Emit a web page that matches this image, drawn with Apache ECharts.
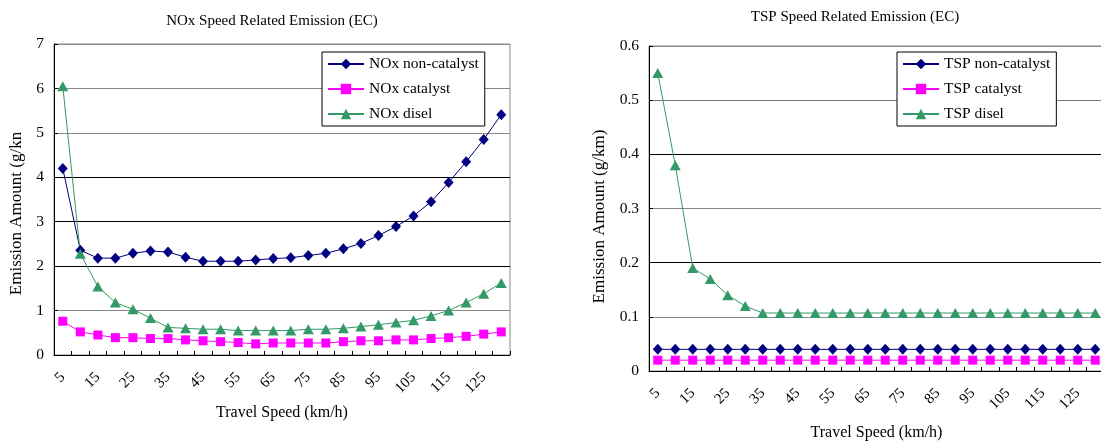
<!DOCTYPE html>
<html>
<head>
<meta charset="utf-8">
<script src="https://cdn.jsdelivr.net/npm/echarts@6/dist/echarts.min.js"></script>
<style>
  html, body { margin: 0; padding: 0; background: #fff; }
  #chart { width: 1101px; height: 442px; }
</style>
</head>
<body>
<div id="chart"></div>
<script>
// ---- data ----
const speeds = ['5','10','15','20','25','30','35','40','45','50','55','60','65','70','75','80','85','90','95','100','105','110','115','120','125','130'];

const noxNonCatalyst = [4.20,2.36,2.18,2.18,2.29,2.34,2.32,2.20,2.11,2.11,2.11,2.14,2.17,2.19,2.24,2.29,2.39,2.51,2.69,2.89,3.13,3.45,3.88,4.35,4.85,5.41];
const noxCatalyst    = [0.76,0.52,0.45,0.39,0.39,0.37,0.37,0.34,0.32,0.30,0.28,0.25,0.27,0.27,0.27,0.27,0.30,0.32,0.32,0.34,0.34,0.37,0.39,0.42,0.47,0.52];
const noxDiesel      = [6.05,2.28,1.54,1.18,1.03,0.83,0.62,0.60,0.58,0.58,0.55,0.55,0.55,0.55,0.58,0.58,0.60,0.64,0.68,0.73,0.78,0.88,1.00,1.18,1.38,1.62];

const tspNonCatalyst = [0.04,0.04,0.04,0.04,0.04,0.04,0.04,0.04,0.04,0.04,0.04,0.04,0.04,0.04,0.04,0.04,0.04,0.04,0.04,0.04,0.04,0.04,0.04,0.04,0.04,0.04];
const tspCatalyst    = [0.02,0.02,0.02,0.02,0.02,0.02,0.02,0.02,0.02,0.02,0.02,0.02,0.02,0.02,0.02,0.02,0.02,0.02,0.02,0.02,0.02,0.02,0.02,0.02,0.02,0.02];
const tspDiesel      = [0.55,0.38,0.19,0.17,0.14,0.12,0.107,0.107,0.107,0.107,0.107,0.107,0.107,0.107,0.107,0.107,0.107,0.107,0.107,0.107,0.107,0.107,0.107,0.107,0.107,0.107];

const titles = ['NOx Speed Related Emission (EC)', 'TSP Speed Related Emission (EC)'];
const xName = 'Travel Speed (km/h)';
const yNames = ['Emission Amount (g/kn', 'Emission Amount (g/km)'];
const noxNames = ['NOx non-catalyst', 'NOx catalyst', 'NOx disel'];
const tspNames = ['TSP non-catalyst', 'TSP catalyst', 'TSP disel'];

// ---- styling ----
const FONT = 'Liberation Serif';
const NAVY = '#000080', MAGENTA = '#FF00FF', GREEN = '#339966';

function xAxisFor(gridIndex, gap) {
  return {
    type: 'category', gridIndex: gridIndex, data: speeds, boundaryGap: true,
    name: xName, nameLocation: 'middle', nameGap: gap,
    nameTextStyle: { fontFamily: FONT, fontSize: 16, color: '#000' },
    axisLine: { lineStyle: { color: '#000', width: 1 } },
    axisTick: { show: true, inside: true, length: 4, interval: 0, lineStyle: { color: '#000' } },
    axisLabel: { interval: 1, rotate: 45, margin: 20, fontFamily: FONT, fontSize: 15, color: '#000' },
    splitLine: { show: false }
  };
}
function yAxisFor(gridIndex, max, interval, name, gap, pad, colors) {
  return {
    type: 'value', gridIndex: gridIndex, min: 0, max: max, interval: interval,
    name: name, nameLocation: 'middle', nameGap: gap,
    nameTextStyle: { fontFamily: FONT, fontSize: 17, color: '#000', padding: pad },
    axisLine: { show: true, lineStyle: { color: '#000', width: 1 } },
    axisTick: { show: true, inside: true, length: 4, lineStyle: { color: '#000' } },
    axisLabel: { margin: 10, fontFamily: FONT, fontSize: 15.5, color: '#000' },
    splitLine: { show: true, lineStyle: { color: colors, width: 1 } }
  };
}
function lineSeries(name, data, color, symbol, size, idx) {
  return {
    name: name, type: 'line', data: data, xAxisIndex: idx, yAxisIndex: idx,
    symbol: symbol, symbolSize: size, showAllSymbol: true,
    lineStyle: { color: color, width: 1 },
    itemStyle: { color: color },
    emphasis: { disabled: true },
    animation: false
  };
}
function legendFor(names, left) {
  return {
    data: names, orient: 'vertical', left: left, top: 52,
    itemWidth: 36, itemHeight: 13, itemGap: 9,
    padding: [4, 6, 4, 5],
    borderColor: '#000', borderWidth: 1, backgroundColor: '#fff',
    textStyle: { fontFamily: FONT, fontSize: 15.5, color: '#000', lineHeight: 16 }
  };
}

const option = {
  backgroundColor: '#fff',
  animation: false,
  title: [
    { text: titles[0], left: 272, top: 14, textAlign: 'center', padding: 0,
      textStyle: { fontFamily: FONT, fontSize: 15, fontWeight: 'normal', color: '#000' } },
    { text: titles[1], left: 855, top: 10, textAlign: 'center', padding: 0,
      textStyle: { fontFamily: FONT, fontSize: 15, fontWeight: 'normal', color: '#000' } }
  ],
  legend: [legendFor(noxNames, 322), legendFor(tspNames, 897)],
  grid: [
    { left: 54, top: 44, width: 456, height: 311, show: true, borderColor: '#888', borderWidth: 1,
      backgroundColor: 'transparent', containLabel: false, outerBoundsMode: 'none' },
    { left: 649, top: 46, width: 455, height: 325, show: true, borderColor: '#888', borderWidth: 1,
      backgroundColor: 'transparent', containLabel: false, outerBoundsMode: 'none' }
  ],
  xAxis: [xAxisFor(0, 50), xAxisFor(1, 54)],
  yAxis: [
    yAxisFor(0, 7, 1, yNames[0], 29, [0, 28, 0, 0], ['#000', '#888', '#000', '#000', '#000', '#888', '#888', '#888']),
    yAxisFor(1, 0.6, 0.1, yNames[1], 41, [0, 16, 0, 0], ['#000', '#888', '#000', '#888', '#000', '#777', '#888'])
  ],
  series: [
    lineSeries(noxNames[0], noxNonCatalyst, NAVY, 'diamond', [10, 11], 0),
    lineSeries(noxNames[1], noxCatalyst, MAGENTA, 'rect', 9, 0),
    lineSeries(noxNames[2], noxDiesel, GREEN, 'triangle', [11, 10], 0),
    lineSeries(tspNames[0], tspNonCatalyst, NAVY, 'diamond', [10, 11], 1),
    lineSeries(tspNames[1], tspCatalyst, MAGENTA, 'rect', 9, 1),
    lineSeries(tspNames[2], tspDiesel, GREEN, 'triangle', [11, 10], 1)
  ]
};

const chart = echarts.init(document.getElementById('chart'), null, { renderer: 'canvas' });
chart.setOption(option);
</script>
</body>
</html>
